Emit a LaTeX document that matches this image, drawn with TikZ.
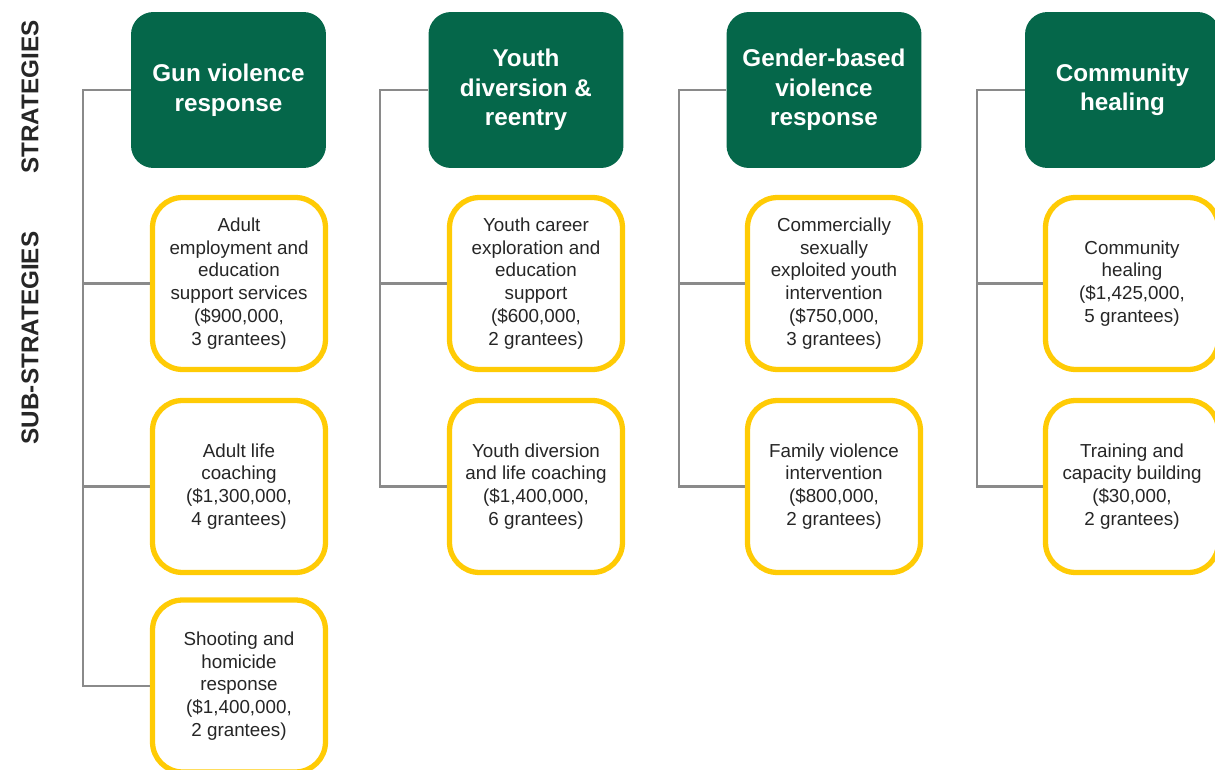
\documentclass[tikz,border=0pt]{standalone}
\usepackage{fontspec}
\setmainfont{Liberation Sans}
\usepackage{tikz}
\usepackage{xcolor}
\definecolor{stratgreen}{HTML}{05674A}
\definecolor{subyellow}{HTML}{FFCB05}
\definecolor{branchgray}{HTML}{8A8A8A}
\definecolor{subtext}{HTML}{262626}
\tikzstyle{strategy} = [rectangle, rounded corners=0.45cm, minimum width=3.9cm, minimum height=3.12cm, align=center, fill=stratgreen, text=white, font=\fontsize{13.8}{16.8}\selectfont\bfseries]
\tikzstyle{substrategy} = [rectangle, rounded corners=0.6cm, minimum width=3.46cm, minimum height=3.44cm, align=center, draw=subyellow, line width=3pt, fill=white, text=subtext, font=\fontsize{10.7}{13}\selectfont]
\tikzstyle{sidelabel} = [rotate=90, text=subtext, font=\fontsize{13.8}{16}\selectfont\bfseries]
\tikzstyle{branch} = [draw=branchgray, line width=1.4pt]

\begin{document}
\begin{tikzpicture}[x=0.02cm, y=-0.02cm]
	\useasboundingbox (0,0) rectangle (1215,770);
	%Side labels
	\node[sidelabel] (lstrat) at (30,97) {STRATEGIES};
	\node[sidelabel] (lsub) at (30,338) {SUB-STRATEGIES};
	%Gun violence response
	\node[strategy] (gun) at (228.5,90) {Gun violence\\response};
	\node[substrategy] (gun1) at (239,283.5) {Adult\\employment and\\education\\support services\\(\$900,000,\\3 grantees)};
	\node[substrategy] (gun2) at (239,486.5) {Adult life\\coaching\\(\$1,300,000,\\4 grantees)};
	\node[substrategy] (gun3) at (239,686) {Shooting and\\homicide\\response\\(\$1,400,000,\\2 grantees)};
	\coordinate (guntrunk) at (83,90);
	\draw[branch] (gun.west) -- (guntrunk) |- (gun3.west);
	\draw[branch] (guntrunk |- gun1.west) -- (gun1.west);
	\draw[branch] (guntrunk |- gun2.west) -- (gun2.west);
	%Youth diversion & reentry
	\node[strategy] (youth) at (526,90) {Youth\\diversion \&\\reentry};
	\node[substrategy] (youth1) at (536,283.5) {Youth career\\exploration and\\education\\support\\(\$600,000,\\2 grantees)};
	\node[substrategy] (youth2) at (536,486.5) {Youth diversion\\and life coaching\\(\$1,400,000,\\6 grantees)};
	\coordinate (youthtrunk) at (380,90);
	\draw[branch] (youth.west) -- (youthtrunk) |- (youth2.west);
	\draw[branch] (youthtrunk |- youth1.west) -- (youth1.west);
	%Gender-based violence response
	\node[strategy] (gender) at (824,90) {Gender-based\\violence\\response};
	\node[substrategy] (gender1) at (834,283.5) {Commercially\\sexually\\exploited youth\\intervention\\(\$750,000,\\3 grantees)};
	\node[substrategy] (gender2) at (834,486.5) {Family violence\\intervention\\(\$800,000,\\2 grantees)};
	\coordinate (gendertrunk) at (679,90);
	\draw[branch] (gender.west) -- (gendertrunk) |- (gender2.west);
	\draw[branch] (gendertrunk |- gender1.west) -- (gender1.west);
	%Community healing
	\node[strategy] (heal) at (1122.5,90) {Community\\healing};
	\node[substrategy] (heal1) at (1132,283.5) {Community\\healing\\(\$1,425,000,\\5 grantees)};
	\node[substrategy] (heal2) at (1132,486.5) {Training and\\capacity building\\(\$30,000,\\2 grantees)};
	\coordinate (healtrunk) at (977,90);
	\draw[branch] (heal.west) -- (healtrunk) |- (heal2.west);
	\draw[branch] (healtrunk |- heal1.west) -- (heal1.west);

\end{tikzpicture}
\end{document}
